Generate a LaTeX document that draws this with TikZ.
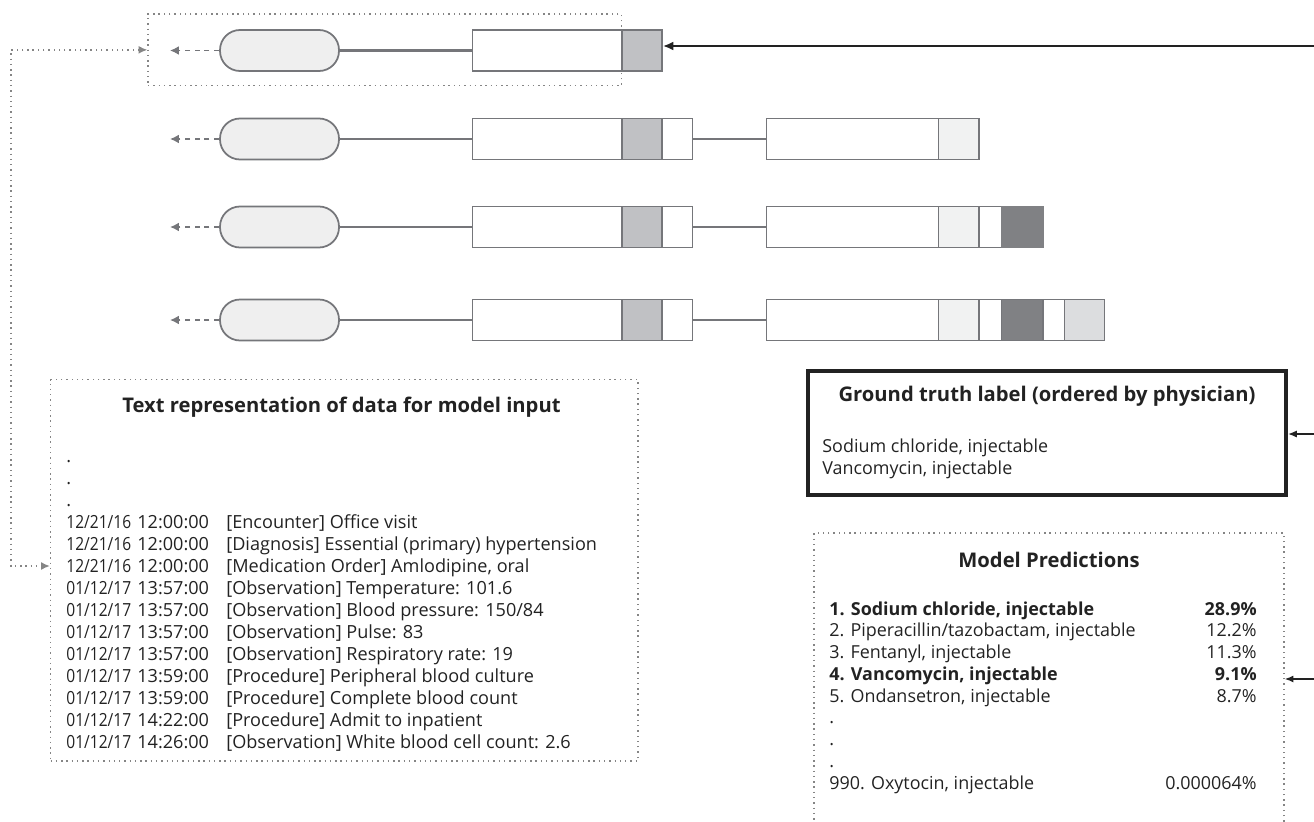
\documentclass[tikz,border=0pt]{standalone}
\usepackage{fontspec}
\usepackage{graphicx}
\setmainfont{Open Sans}
\usetikzlibrary{arrows.meta,calc}
\definecolor{edgec}{HTML}{75767A}
\definecolor{pillc}{HTML}{EFEFEF}
\definecolor{gboxc}{HTML}{C0C1C4}
\definecolor{lboxc}{HTML}{F1F2F2}
\definecolor{dboxc}{HTML}{808184}
\definecolor{mboxc}{HTML}{DCDDDF}
\definecolor{dotc}{HTML}{858585}
\definecolor{inkc}{HTML}{222222}
\newcommand\dstamp[1]{\scalebox{0.86}[1]{#1}}
\begin{document}
\begin{tikzpicture}[x=0.02cm,y=-0.02cm,
  pill/.style={draw=edgec, fill=pillc, line width=1pt, rounded corners=0.4cm, minimum width=2.38cm, minimum height=0.82cm, inner sep=0pt},
  seg/.style={draw=edgec, line width=1pt, minimum height=0.82cm, inner sep=0pt, anchor=west},
  link/.style={draw=edgec, line width=1.2pt},
  back/.style={draw=edgec, line width=0.9pt, dash pattern=on 3pt off 2.5pt, -{Latex[length=5pt,width=5pt]}},
  dotbox/.style={draw=dotc, line width=0.8pt, dash pattern=on 0.8pt off 2.2pt, inner sep=0pt},
  dotarrow/.style={draw=dotc, line width=0.8pt, dash pattern=on 0.8pt off 2.2pt, {Latex[length=5pt,width=4.5pt]}-{Latex[length=5pt,width=4.5pt]}},
  feed/.style={draw=inkc, line width=1.2pt, -{Latex[length=6pt,width=5pt]}},
  feedthin/.style={draw=inkc, line width=0.8pt, -{Latex[length=5pt,width=4pt]}},
  title/.style={font=\fontsize{11.5}{13.5}\selectfont\bfseries, text=inkc, inner sep=0pt},
  body/.style={inner sep=0pt, text=inkc}
]
\useasboundingbox (0,0) rectangle (1314,821);
\clip (0,0) rectangle (1314,821);

% top dotted frame
\node[dotbox, minimum width=9.47cm, minimum height=1.434cm] (topbox) at (384.75,49.85) {};

% row 1
\node[pill] (p1) at (279.5,50.5) {};
\node[seg, minimum width=3cm] (w1) at (471.5,50.5) {};
\node[seg, fill=gboxc, minimum width=0.79cm] (g1) at (621.5,50.5) {};
\coordinate (b1) at (170,50.5);
\draw[link] (p1.east) -- (w1.west);
\draw[back] (p1.west) -- (b1);

% rows 2-4 left part
\foreach \r/\yy in {2/139,3/227,4/320}{
  \node[pill] (p\r) at (279.5,\yy) {};
  \node[seg, minimum width=3cm] (w\r) at (471.5,\yy) {};
  \node[seg, fill=gboxc, minimum width=0.79cm] (g\r) at (621.5,\yy) {};
  \node[seg, minimum width=0.61cm] (x\r) at (661,\yy) {};
  \node[seg, minimum width=3.444cm] (R\r) at (765.5,\yy) {};
  \node[seg, fill=lboxc, minimum width=0.806cm] (L\r) at (937.7,\yy) {};
  \coordinate (b\r) at (170,\yy);
  \draw[link] (p\r.east) -- (w\r.west);
  \draw[link] (x\r.east) -- (R\r.west);
  \draw[back] (p\r.west) -- (b\r);
}
% extra segments rows 3 and 4
\node[seg, minimum width=0.452cm] (W3) at (978,227) {};
\node[seg, fill=dboxc, draw=dboxc, minimum width=0.834cm] (D3) at (1000.6,227) {};
\node[seg, minimum width=0.452cm] (W4) at (978,320) {};
\node[seg, fill=dboxc, draw=edgec, minimum width=0.834cm] (D4) at (1000.6,320) {};
\node[seg, minimum width=0.426cm] (V4) at (1042.3,320) {};
\node[seg, fill=mboxc, minimum width=0.798cm] (M4) at (1063.6,320) {};

% feedback arrow to text box
\node[dotbox, minimum width=11.75cm, minimum height=7.63cm] (textbox) at (344.25,570.25) {};
\coordinate (c1) at (11,49.85);
\coordinate (c2) at (11,566);
\draw[dotarrow] (topbox.west) -- (c1) -- (c2) -- (c2 -| textbox.west);

% text box content
\node[title] (tt) at (341.5,407) {Text representation of data for model input};
\node[body, anchor=base west] (tx) at (66,462.4) {\fontsize{10.3}{12.52}\selectfont
\begin{tabular}[t]{@{}p{1.42cm}@{}p{1.78cm}@{}l@{}}
.&&\\
.&&\\
.&&\\
\dstamp{12/21/16}&12:00:00&[Encounter] Office visit\\
\dstamp{12/21/16}&12:00:00&[Diagnosis] Essential (primary) hypertension\\
\dstamp{12/21/16}&12:00:00&[Medication Order] Amlodipine, oral\\
\dstamp{01/12/17}&13:57:00&[Observation] Temperature: 101.6\\
\dstamp{01/12/17}&13:57:00&[Observation] Blood pressure: 150/84\\
\dstamp{01/12/17}&13:57:00&[Observation] Pulse: 83\\
\dstamp{01/12/17}&13:57:00&[Observation] Respiratory rate: 19\\
\dstamp{01/12/17}&13:59:00&[Procedure] Peripheral blood culture\\
\dstamp{01/12/17}&13:59:00&[Procedure] Complete blood count\\
\dstamp{01/12/17}&14:22:00&[Procedure] Admit to inpatient\\
\dstamp{01/12/17}&14:26:00&[Observation] White blood cell count: 2.6
\end{tabular}};

% ground truth box
\node[draw=inkc, line width=2.3pt, minimum width=9.56cm, minimum height=2.474cm, inner sep=0pt] (gt) at (1047,432.85) {};
\node[title] (gtt) at (1047,396.7) {Ground truth label (ordered by physician)};
\node[body, anchor=base west] (gtx) at (822,452.5) {\fontsize{10.2}{12.24}\selectfont
\begin{tabular}[t]{@{}l@{}}
Sodium chloride, injectable\\
Vancomycin, injectable
\end{tabular}};

% model predictions box
\node[dotbox, minimum width=9.4cm, minimum height=7.34cm] (mp) at (1049,716.5) {};
\node[title] (mpt) at (1049,560) {Model Predictions};
\node[body, anchor=base west] (mpl) at (829,615) {\fontsize{10.2}{12.4}\selectfont
\begin{tabular}[t]{@{}l@{}}
\textbf{1. Sodium chloride, injectable}\\
2. Piperacillin/tazobactam, injectable\\
3. Fentanyl, injectable\\
\textbf{4. Vancomycin, injectable}\\
5. Ondansetron, injectable\\
.\\
.\\
.\\
990. Oxytocin, injectable
\end{tabular}};
\node[body, anchor=base east] (mpr) at (1257,615) {\fontsize{10.2}{12.4}\selectfont
\begin{tabular}[t]{@{}r@{}}
\textbf{28.9\%}\\
12.2\%\\
11.3\%\\
\textbf{9.1\%}\\
8.7\%\\
\\
\\
\\
0.000064\%
\end{tabular}};

% incoming arrows from the right edge
\coordinate (s1) at (1314,46);
\coordinate (s2) at (1314,434);
\coordinate (s3) at (1314,679);
\draw[feed] (s1) -- (s1 -| g1.east);
\draw[feedthin] (s2) -- (s2 -| gt.east);
\draw[feedthin] (s3) -- (s3 -| mp.east);
\end{tikzpicture}
\end{document}
